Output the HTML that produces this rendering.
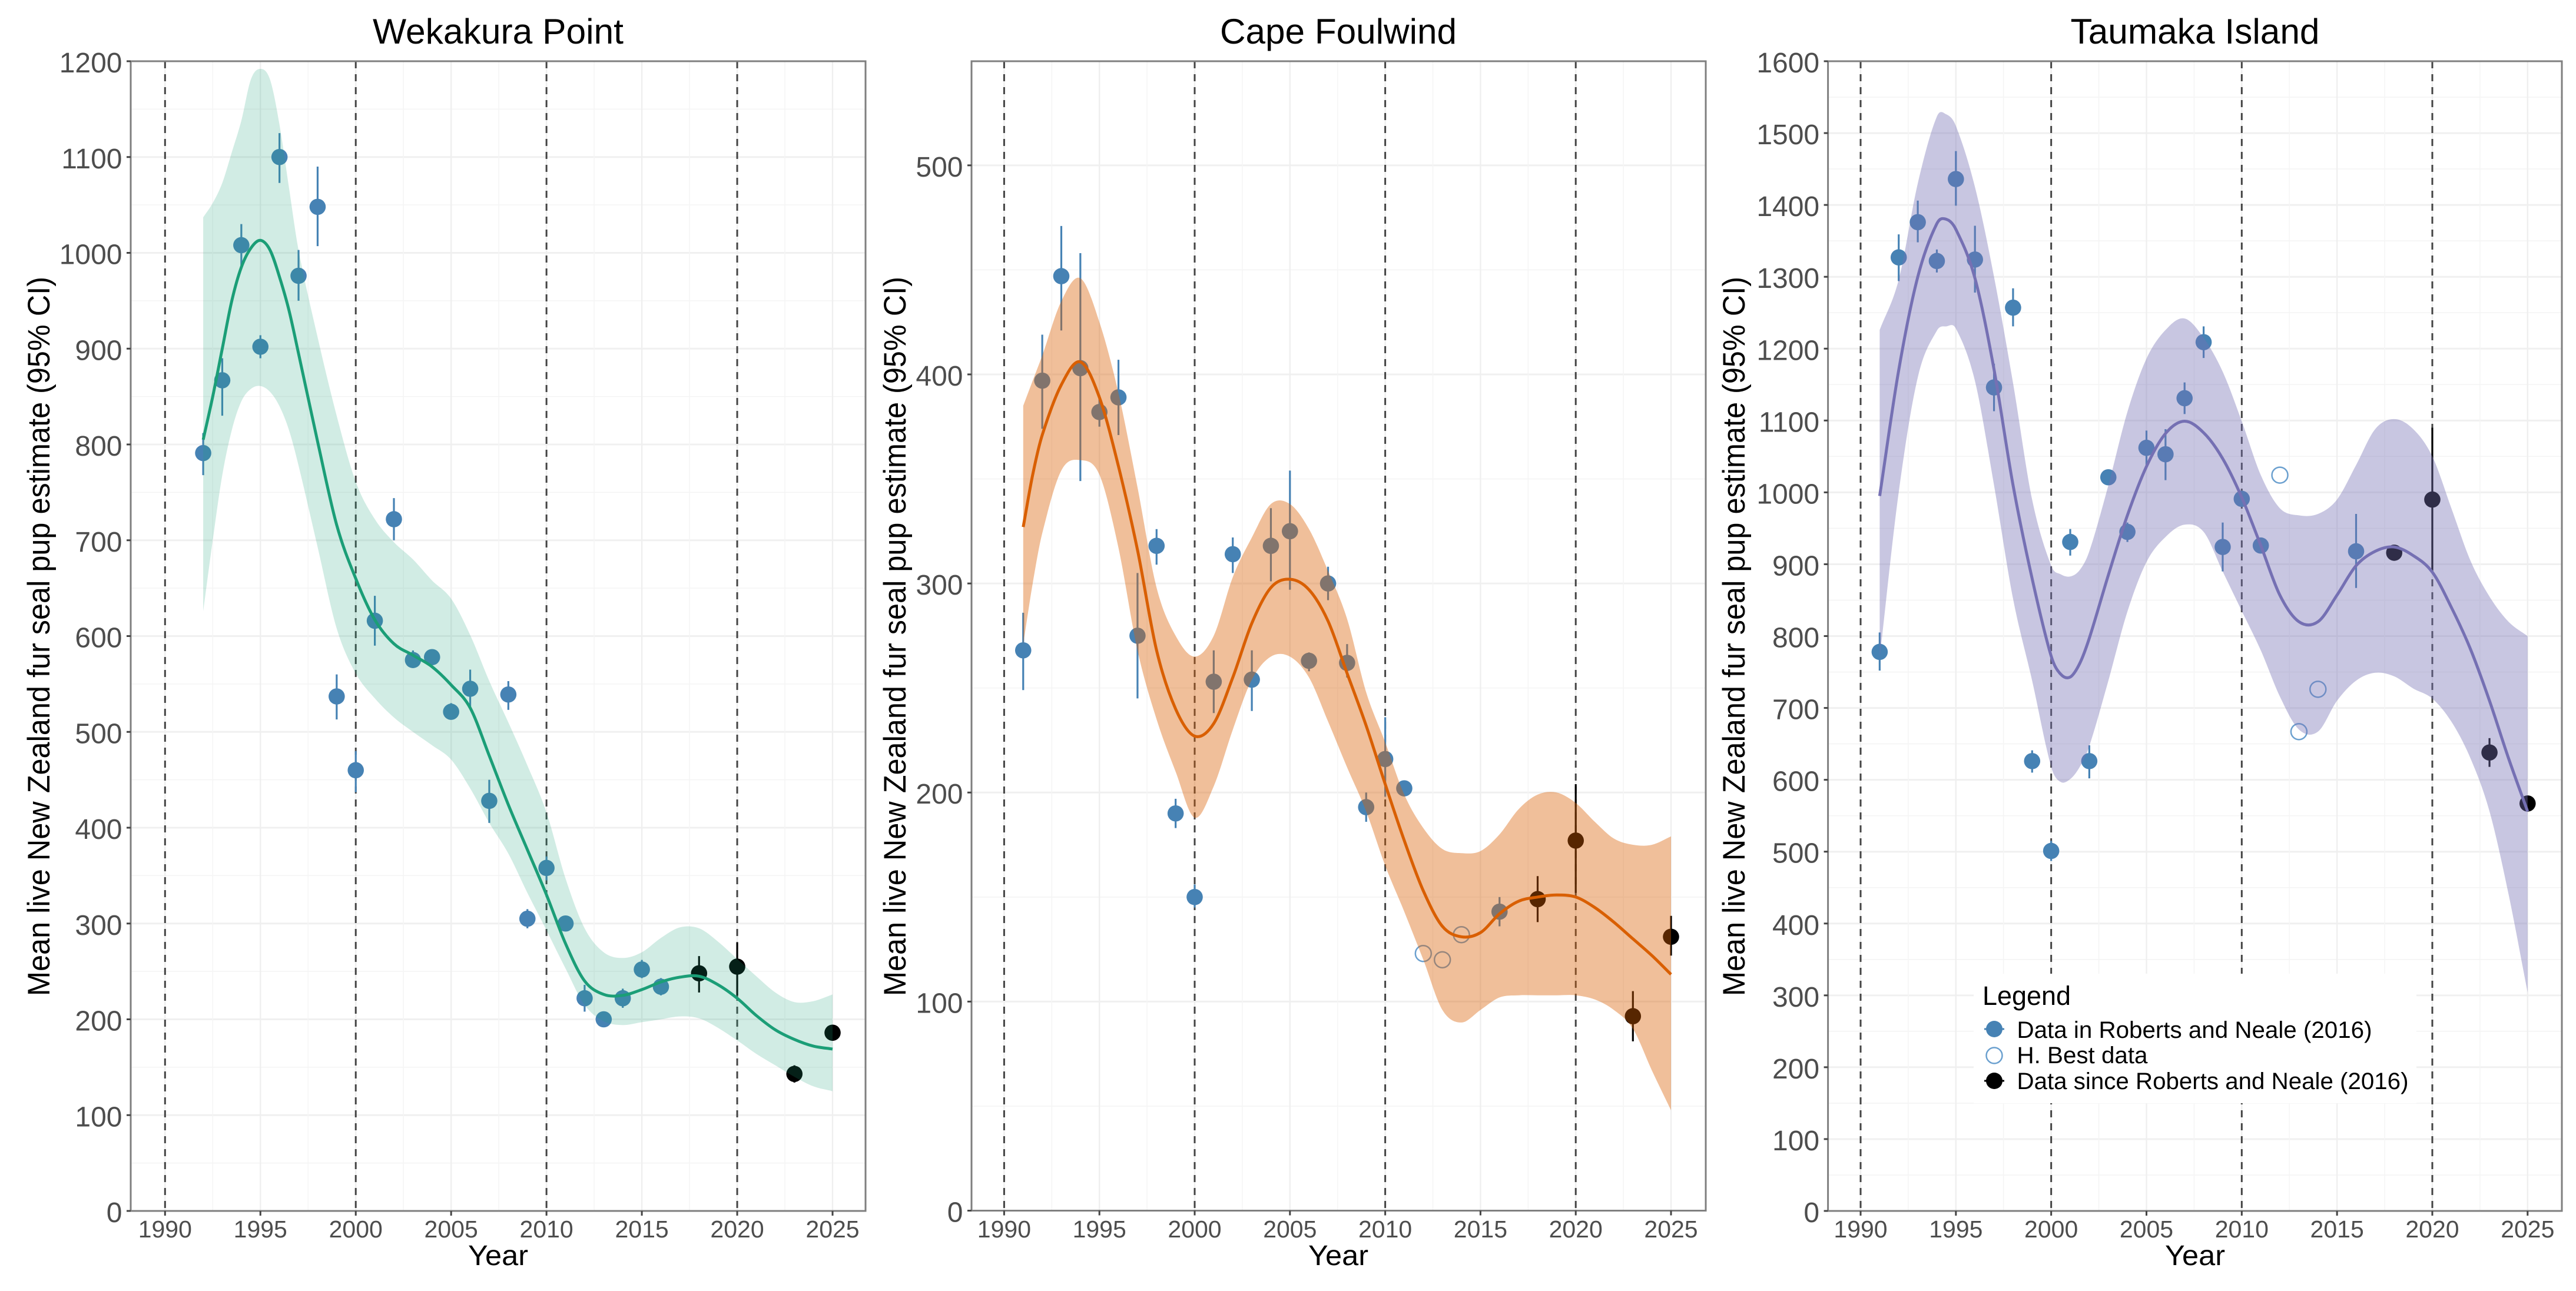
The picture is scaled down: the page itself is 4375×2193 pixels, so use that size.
<!DOCTYPE html>
<html lang="en">
<head>
<meta charset="utf-8">
<title>New Zealand fur seal pup estimates</title>
<style>
html,body{margin:0;padding:0;background:#fff;width:4375px;height:2193px;overflow:hidden}
svg{display:block}
text{font-family:"Liberation Sans",sans-serif}
</style>
</head>
<body>
<svg id="figure" xmlns="http://www.w3.org/2000/svg" width="4375" height="2193" viewBox="0 0 4375 2193">
  <rect width="4375" height="2193" fill="#fff"/>

  <g id="panel-wekakura"></g>
  <g id="panel-foulwind"></g>
  <g id="panel-taumaka"></g>

  <text x="846" y="74" font-size="60" text-anchor="middle" textLength="426" lengthAdjust="spacingAndGlyphs">Wekakura Point</text>
  <text x="2273" y="74" font-size="60" text-anchor="middle" textLength="402" lengthAdjust="spacingAndGlyphs">Cape Foulwind</text>
  <text x="3728" y="74" font-size="60" text-anchor="middle" textLength="423" lengthAdjust="spacingAndGlyphs">Taumaka Island</text>

  <text transform="translate(84,1081) rotate(-90)" font-size="53" text-anchor="middle" textLength="1222" lengthAdjust="spacingAndGlyphs">Mean live New Zealand fur seal pup estimate (95% CI)</text>
  <text transform="translate(1538,1081) rotate(-90)" font-size="53" text-anchor="middle" textLength="1222" lengthAdjust="spacingAndGlyphs">Mean live New Zealand fur seal pup estimate (95% CI)</text>
  <text transform="translate(2963,1081) rotate(-90)" font-size="53" text-anchor="middle" textLength="1222" lengthAdjust="spacingAndGlyphs">Mean live New Zealand fur seal pup estimate (95% CI)</text>

  <text x="846" y="2149" font-size="48" text-anchor="middle" textLength="102" lengthAdjust="spacingAndGlyphs">Year</text>
  <text x="2273" y="2149" font-size="48" text-anchor="middle" textLength="102" lengthAdjust="spacingAndGlyphs">Year</text>
  <text x="3728" y="2149" font-size="48" text-anchor="middle" textLength="102" lengthAdjust="spacingAndGlyphs">Year</text>

  <g>
    <rect x="3352" y="1654" width="752" height="220" fill="#fff"/>
    <text x="3367" y="1707" font-size="45" textLength="150" lengthAdjust="spacingAndGlyphs">Legend</text>
    <g>
      <line x1="3370" x2="3404" y1="1748" y2="1748" stroke="#4682b4" stroke-width="3"/>
      <circle cx="3387" cy="1748" r="14" fill="#4682b4"/>
      <text x="3425.5" y="1763" font-size="40" textLength="603" lengthAdjust="spacingAndGlyphs">Data in Roberts and Neale (2016)</text>
    </g>
    <g>
      <circle cx="3387" cy="1793" r="13.5" fill="none" stroke="#6ba0cf" stroke-width="2.5"/>
      <text x="3425.5" y="1806" font-size="40" textLength="222" lengthAdjust="spacingAndGlyphs">H. Best data</text>
    </g>
    <g>
      <line x1="3370" x2="3404" y1="1836" y2="1836" stroke="#000" stroke-width="3"/>
      <circle cx="3387" cy="1836" r="14" fill="#000"/>
      <text x="3425.5" y="1850" font-size="40" textLength="665" lengthAdjust="spacingAndGlyphs">Data since Roberts and Neale (2016)</text>
    </g>
  </g>
</svg>

<script>
// ---------- Wekakura Point ----------
const wekakuraYears = [1992,1993,1994,1995,1996,1997,1998,1999,2000,2001,2002,2003,2004,2005,2006,2007,2008,2009,2010,2011,2012,2013,2014,2015,2016,2018,2020,2023,2025];
const wekakuraMean  = [791,867,1008,902,1100,976,1048,537,460,616,722,575,578,521,545,428,539,305,358,300,222,200,222,252,234,248,255,143,186];
const wekakuraLow   = [768,830,985,890,1073,950,1007,513,437,590,700,567,570,515,525,405,523,295,345,292,208,193,212,243,225,228,225,134,178];
const wekakuraHigh  = [812,890,1030,914,1125,1003,1090,560,480,642,744,585,585,530,565,450,553,315,370,308,236,207,232,262,243,266,280,152,194];
const wekakuraKinds = ['old','old','old','old','old','old','old','old','old','old','old','old','old','old','old','old','old','old','old','old','old','old','old','old','old','new','new','new','new'];
const wekakuraFitYears = [1992,1992.5,1993,1993.5,1994,1994.5,1995,1995.5,1996,1996.5,1997,1998,1999,2000,2001,2002,2003,2004,2005,2006,2007,2008,2009,2010,2011,2012,2013,2014,2015,2016,2017,2018,2019,2020,2021,2022,2023,2024,2025];
const wekakuraFit   = [805,850,900,950,985,1005,1013,1003,975,940,895,803,716,660,617,592,580,568,549,525,475,424,377,330,279,240,226,225,231,239,244,245,236,222,204,189,179,172,169];
const wekakuraUpper = [1037,1052,1073,1105,1138,1181,1192,1181,1134,1068,1003,912,830,761,722,698,680,658,639,601,553,510,465,416,347,295,270,264,270,285,296,295,281,263,245,228,218,219,226];
const wekakuraLower = [626,700,768,815,845,858,861,855,840,815,778,693,608,561,535,515,500,486,471,441,405,373,332,293,253,215,198,194,197,200,203,201,191,178,164,152,140,130,125];
const wekakuraYTicks = [0,100,200,300,400,500,600,700,800,900,1000,1100,1200];

// ---------- Cape Foulwind ----------
const foulwindYears = [1991,1992,1993,1994,1995,1996,1997,1998,1999,2000,2001,2002,2003,2004,2005,2006,2007,2008,2009,2010,2011,2012,2013,2014,2016,2018,2020,2023,2025];
const foulwindMean  = [268,397,447,403,382,389,275,318,190,150,253,314,254,318,325,263,300,262,193,216,202,123,120,132,143,149,177,93,131];
const foulwindLow   = [249,374,421,349,375,371,245,309,183,145,238,305,239,301,297,258,292,255,186,198,200,null,null,null,136,138,152,81,122];
const foulwindHigh  = [286,419,471,458,390,407,305,326,197,156,268,322,268,336,354,267,308,271,200,236,205,null,null,null,150,160,204,105,141];
const foulwindKinds = ['old','old','old','old','old','old','old','old','old','old','old','old','old','old','old','old','old','old','old','old','old','best','best','best','old','new','new','new','new'];
const foulwindFitYears = [1991,1991.5,1992,1993,1994,1995,1996,1997,1998,1999,2000,2001,2002,2003,2004,2005,2006,2007,2008,2009,2010,2011,2012,2013,2014,2015,2016,2017,2018,2019,2020,2021,2022,2023,2024,2025];
const foulwindFit   = [327,352,371,395,406,389,356,316,268,240,227,233,255,281,298,302,297,282,257,232,204,177,153,136,131,133,142,148,150,151,150,145,138,130,122,113];
const foulwindUpper = [385,397,409,435,446,425,391,346,298,275,265,275,303,322,338,338,326,306,283,248,224,199,183,173,171,172,180,192,199,200,195,186,178,175,175,179];
const foulwindLower = [271,300,324,354,359,352,317,268,235,210,188,203,230,254,265,265,255,234,212,191,165,143,120,96,90,96,102,103,103,103,103,101,96,87,67,48];
const foulwindYTicks = [0,100,200,300,400,500];

// ---------- Taumaka Island ----------
const taumakaYears = [1991,1992,1993,1994,1995,1996,1997,1998,1999,2000,2001,2002,2003,2004,2005,2006,2007,2008,2009,2010,2011,2012,2013,2014,2016,2018,2020,2023,2025];
const taumakaMean  = [778,1327,1376,1322,1436,1324,1146,1257,626,501,931,626,1021,945,1062,1053,1131,1209,924,991,926,1024,667,726,918,916,990,638,567];
const taumakaLow   = [752,1294,1348,1306,1399,1278,1113,1231,610,487,912,602,1013,931,1038,1017,1109,1187,890,981,918,null,null,null,867,908,889,618,560];
const taumakaHigh  = [805,1359,1406,1338,1475,1371,1179,1284,641,515,949,648,1030,958,1086,1088,1153,1231,958,1001,935,null,null,null,970,924,1090,658,574];
const taumakaKinds = ['old','old','old','old','old','old','old','old','old','old','old','old','old','old','old','old','old','old','old','old','old','best','best','best','old','new','new','new','new'];
const taumakaFitYears = [1991,1992,1993,1994,1994.5,1995,1996,1997,1998,1999,2000,2000.5,2001,2001.5,2002,2003,2004,2005,2006,2007,2008,2009,2010,2011,2012,2013,2014,2015,2016,2017,2018,2019,2020,2021,2022,2023,2024,2025];
const taumakaFit   = [995,1170,1300,1374,1380,1366,1298,1171,1010,880,772,747,743,762,797,885,968,1036,1082,1099,1083,1047,993,926,857,820,820,857,898,918,924,912,889,840,782,710,630,556];
const taumakaUpper = [1226,1296,1430,1523,1526,1510,1425,1300,1152,990,898,886,883,892,918,1010,1112,1186,1226,1242,1215,1168,1099,1024,978,968,970,990,1038,1088,1102,1088,1050,978,905,855,820,800];
const taumakaLower = [770,1000,1160,1225,1231,1228,1155,1010,852,738,618,597,601,618,647,738,834,903,938,955,945,890,835,780,716,670,667,710,738,749,744,727,713,681,630,556,441,304];
const taumakaYTicks = [0,100,200,300,400,500,600,700,800,900,1000,1100,1200,1300,1400,1500,1600];

// ---------- Shared axis ticks ----------
const xTickYears = [1990,1995,2000,2005,2010,2015,2020,2025];
const xMinorYears = [1992.5,1997.5,2002.5,2007.5,2012.5,2017.5,2022.5];
const dashedYears = [1990,2000,2010,2020];

const SVG_NS = 'http://www.w3.org/2000/svg';
const BLUE = '#4682b4';
const TOP = 104;

function make(tag, attrs, parent) {
  const e = document.createElementNS(SVG_NS, tag);
  for (const k in attrs) e.setAttribute(k, attrs[k]);
  parent.appendChild(e);
  return e;
}

function splineSegments(xs, ys) {
  const n = xs.length;
  const m = new Array(n);
  for (let i = 0; i < n; i++) {
    const a = Math.max(0, i - 1), b = Math.min(n - 1, i + 1);
    m[i] = (ys[b] - ys[a]) / (xs[b] - xs[a]);
  }
  let d = '';
  for (let i = 0; i < n - 1; i++) {
    const h = (xs[i + 1] - xs[i]) / 3;
    d += 'C' + (xs[i] + h).toFixed(1) + ' ' + (ys[i] + m[i] * h).toFixed(1) + ' ' +
         (xs[i + 1] - h).toFixed(1) + ' ' + (ys[i + 1] - m[i + 1] * h).toFixed(1) + ' ' +
         xs[i + 1].toFixed(1) + ' ' + ys[i + 1].toFixed(1);
  }
  return d;
}

function drawPanel(p) {
  const g = document.getElementById(p.id);
  const xScale = year => p.x1990 + (year - 1990) * (p.x2025 - p.x1990) / 35;
  const yScale = val => p.y0 - val * (p.y0 - TOP) / p.yTop;

  // horizontal grid
  for (let v = 50; v < p.yTop; v += 100) {
    const line = make('line', {x1: p.left, x2: p.right, y1: yScale(v), y2: yScale(v), stroke: '#f4f4f4', 'stroke-width': 1.6}, g);
    
    
  }
  p.yTicks.forEach(v => {
    const line = make('line', {x1: p.left, x2: p.right, y1: yScale(v), y2: yScale(v), stroke: '#f0f0f0', 'stroke-width': 3}, g);
    
    
  });
  // vertical grid
  xMinorYears.forEach(y => {
    const line = make('line', {x1: xScale(y), x2: xScale(y), y1: TOP, y2: p.y0, stroke: '#f5f5f5', 'stroke-width': 1.6}, g);
    
    
  });
  xTickYears.forEach(y => {
    const line = make('line', {x1: xScale(y), x2: xScale(y), y1: TOP, y2: p.y0, stroke: '#efefef', 'stroke-width': 2.4}, g);
    
    
  });
  // dashed decade lines
  dashedYears.forEach(y => {
    const line = make('line', {x1: xScale(y), x2: xScale(y), y1: TOP, y2: p.y0, stroke: '#444', 'stroke-width': 3, 'stroke-dasharray': '12 10'}, g);
    
    
  });

  // points and error bars (sit under the ribbon)
  p.years.forEach((yr, i) => {
    const kind = p.kinds[i];
    const cx = xScale(yr), cy = yScale(p.mean[i]);
    const col = kind === 'new' ? '#000' : BLUE;
    if (p.low[i] !== null) {
      const bar = make('line', {x1: cx, x2: cx, y1: yScale(p.low[i]), y2: yScale(p.high[i]), stroke: col, 'stroke-width': 3.2}, g);
      
      
    }
    const dot = kind === 'best'
      ? make('circle', {cx: cx, cy: cy, r: 13.5, fill: 'none', stroke: '#6ba0cf', 'stroke-width': 2.5}, g)
      : make('circle', {cx: cx, cy: cy, r: 13.8, fill: col}, g);
    
    
  });

  // confidence ribbon
  const fx = p.fitYears.map(xScale);
  const up = p.upper.map(yScale);
  const lo = p.lower.map(yScale);
  const rx = fx.slice().reverse();
  const rl = lo.slice().reverse();
  const ribbonD = 'M' + fx[0].toFixed(1) + ' ' + up[0].toFixed(1) + splineSegments(fx, up) +
    'L' + rx[0].toFixed(1) + ' ' + rl[0].toFixed(1) + splineSegments(rx, rl) + 'Z';
  const ribbon = make('path', {d: ribbonD, fill: p.color, 'fill-opacity': p.alpha, stroke: 'none'}, g);
  
  

  // fitted line
  const fy = p.fit.map(yScale);
  const fitLine = make('path', {d: 'M' + fx[0].toFixed(1) + ' ' + fy[0].toFixed(1) + splineSegments(fx, fy), fill: 'none', stroke: p.color, 'stroke-width': 5}, g);
  
  

  // panel border
  const border = make('rect', {x: p.left, y: TOP, width: p.right - p.left, height: p.y0 - TOP, fill: 'none', stroke: '#7f7f7f', 'stroke-width': 3}, g);
  
  

  // y ticks
  p.yTicks.forEach(v => {
    const tick = make('line', {x1: p.left - 7, x2: p.left, y1: yScale(v), y2: yScale(v), stroke: '#444', 'stroke-width': 3}, g);
    
    
    const label = make('text', {x: p.left - 14.5, y: yScale(v) + 19, 'font-size': 48, 'text-anchor': 'end', fill: '#4d4d4d'}, g);
    label.textContent = String(v);
    
    
  });
  // x ticks
  xTickYears.forEach(y => {
    const tick = make('line', {x1: xScale(y), x2: xScale(y), y1: p.y0, y2: p.y0 + 8, stroke: '#444', 'stroke-width': 3}, g);
    
    
    const label = make('text', {x: xScale(y), y: 2102, 'font-size': 41, 'text-anchor': 'middle', fill: '#4d4d4d'}, g);
    label.textContent = String(y);
    
    
  });
}

drawPanel({
  id: 'panel-wekakura', left: 222, right: 1470, x1990: 280.3, x2025: 1414, y0: 2057, yTop: 1200,
  color: '#1b9e77', alpha: 0.2, yTicks: wekakuraYTicks,
  years: wekakuraYears, mean: wekakuraMean, low: wekakuraLow, high: wekakuraHigh, kinds: wekakuraKinds,
  fitYears: wekakuraFitYears, fit: wekakuraFit, upper: wekakuraUpper, lower: wekakuraLower
});
drawPanel({
  id: 'panel-foulwind', left: 1650, right: 2897, x1990: 1705.4, x2025: 2838, y0: 2056.5, yTop: 549.8,
  color: '#d95f02', alpha: 0.4, yTicks: foulwindYTicks,
  years: foulwindYears, mean: foulwindMean, low: foulwindLow, high: foulwindHigh, kinds: foulwindKinds,
  fitYears: foulwindFitYears, fit: foulwindFit, upper: foulwindUpper, lower: foulwindLower
});
drawPanel({
  id: 'panel-taumaka', left: 3104.6, right: 4351, x1990: 3160, x2025: 4292.8, y0: 2057, yTop: 1600,
  color: '#7570b3', alpha: 0.4, yTicks: taumakaYTicks,
  years: taumakaYears, mean: taumakaMean, low: taumakaLow, high: taumakaHigh, kinds: taumakaKinds,
  fitYears: taumakaFitYears, fit: taumakaFit, upper: taumakaUpper, lower: taumakaLower
});
</script>
</body>
</html>
